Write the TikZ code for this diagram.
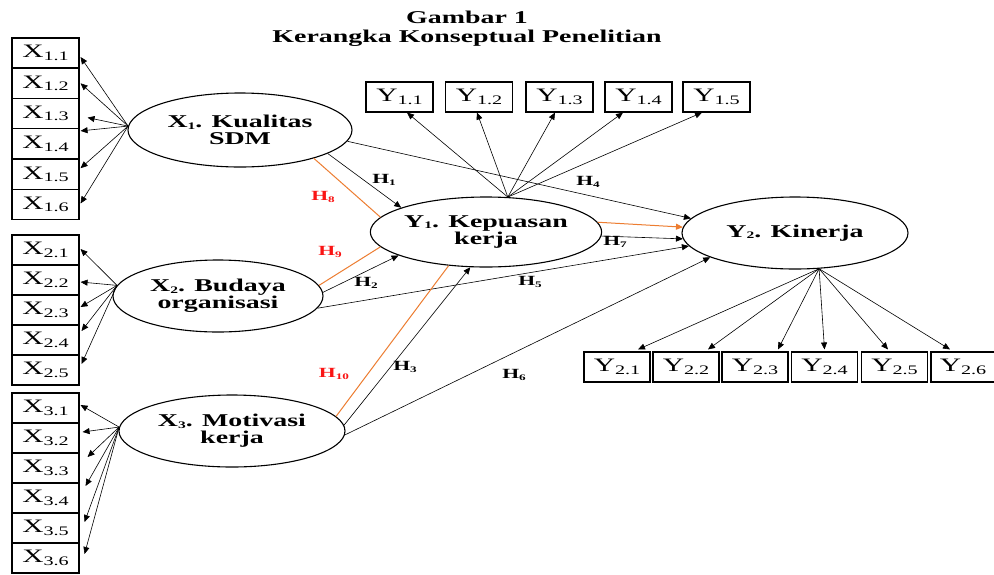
\documentclass[tikz,border=0pt]{standalone}
\usepackage{fontspec}
\setmainfont{Liberation Serif}[FakeStretch=1.55]
\usetikzlibrary{arrows.meta,shapes.geometric}
\definecolor{hor}{RGB}{237,125,49}
\definecolor{hred}{RGB}{250,20,20}
\newcommand{\lsub}[1]{\raisebox{-1.5pt}{\fontsize{10}{10}\selectfont #1}}
\newcommand{\bsub}[1]{\raisebox{-2.5pt}{\fontsize{13}{13}\selectfont #1}}
\newcommand{\hsub}[1]{\raisebox{-2pt}{\fontsize{8.5}{8.5}\selectfont #1}}
\begin{document}
\begin{tikzpicture}[x=1pt,y=-1pt,
 lat/.style={ellipse,draw,line width=1.1pt,inner sep=0pt,align=center,font=\fontsize{18}{17}\selectfont\bfseries},
 ind/.style={draw,line width=1.1pt,minimum width=67pt,minimum height=30pt,inner sep=0pt,font=\fontsize{19}{19}\selectfont},
 ar/.style={line width=0.6pt,-{Triangle[length=7pt,width=6pt]}},
 oline/.style={hor,line width=1pt},
 hl/.style={font=\fontsize{14}{14}\selectfont\bfseries,inner sep=0pt},
 hr/.style={hl,text=hred},
 ttl/.style={font=\fontsize{18}{18}\selectfont\bfseries,inner sep=0pt,anchor=base}]
\useasboundingbox[fill=white] (0,0) rectangle (994,574);

% title
\node[ttl] (t1) at (467,23) {Gambar 1};
\node[ttl] (t2) at (467,42) {Kerangka Konseptual Penelitian};

% latent variables
\node[lat,minimum width=224pt,minimum height=74pt] (x1) at (240,130) {X\lsub{1}. Kualitas\\SDM};
\node[lat,minimum width=210pt,minimum height=72pt] (x2) at (218,296) {X\lsub{2}. Budaya\\organisasi};
\node[lat,minimum width=226pt,minimum height=72pt] (x3) at (232,431) {X\lsub{3}. Motivasi\\kerja};
\node[lat,minimum width=224pt,minimum height=70pt] (y1) at (486,232) {Y\lsub{1}. Kepuasan\\kerja};
\node[lat,minimum width=226pt,minimum height=72pt] (y2) at (795,233) {Y\lsub{2}. Kinerja};

% indicator boxes
\foreach \i/\yy in {1/53,2/83.3,3/113.6,4/143.9,5/174.2,6/204.5}
  \node[ind] (x1\i) at (45.5,\yy) {X\bsub{1.\i}};
\foreach \i/\yy in {1/250,2/280,3/310,4/340,5/370}
  \node[ind] (x2\i) at (45.5,\yy) {X\bsub{2.\i}};
\foreach \i/\yy in {1/408,2/438,3/468,4/498,5/528,6/558}
  \node[ind] (x3\i) at (45.5,\yy) {X\bsub{3.\i}};
\foreach \i/\xx in {1/399.5,2/479,3/559.5,4/638.5,5/716.5}
  \node[ind] (y1\i) at (\xx,97) {Y\bsub{1.\i}};
\foreach \i/\xx in {1/617,2/686,3/755,4/824.5,5/894.5}
  \node[ind,minimum width=66pt] (y2\i) at (\xx,367) {Y\bsub{2.\i}};
\node[ind,minimum width=64pt] (y26) at (963,367) {Y\bsub{2.6}};

% indicator arrows
\foreach \i/\dx/\dy in {1/1/-4,2/1/0,3/8/-4,4/1/13,5/1/6,6/1/1}
  \draw[ar] (x1.178) -- ([xshift=\dx pt,yshift=\dy pt]x1\i.east);
\foreach \i/\dx/\dy in {1/1/1,2/1/-2,3/1/3,4/2/9,5/2/6}
  \draw[ar] (x2.174) -- ([xshift=\dx pt,yshift=\dy pt]x2\i.east);
\foreach \i/\dx/\dy in {1/1/3,2/3/6,3/8/11,4/6/12,5/5/6,6/5/4}
  \draw[ar] (x3.178) -- ([xshift=\dx pt,yshift=\dy pt]x3\i.east);
\foreach \i/\dx in {1/7.5,2/-2,3/-4.5,4/-15.5,5/-14.5}
  \draw[ar] (y1.58) -- ([xshift=\dx pt]y1\i.south);
\foreach \i/\dx in {1/21,2/22,3/23,4/0,5/-6.5,6/-13}
  \draw[ar] (y2.-56) -- ([xshift=\dx pt,yshift=2pt]y2\i.north);

% structural paths
\draw[oline] (x1.-21) -- (y1.172);
\draw[ar] (x1.-15) -- (y1.164);
\draw[ar] (x1.-6) -- (y2.172);
\draw[oline,-{Triangle[length=7pt,width=6pt]}] (y1.5) -- (y2.177);
\draw[ar] (y1.-2) -- (y2.-177);
\draw[ar] (x2.-7) -- (y2.187);
\draw[ar] (x2.2) -- (y1.195);
\draw[oline] (x2.6) -- (y1.188);
\draw[oline] (x3.8) -- (y1.222);
\draw[ar] (x3.3) -- (y1.246);
\draw[ar] (x3.-2) -- (y2.196);

% labels
\node[hl] (h1) at (384,180) {H\hsub{1}};
\node[hl] (h4) at (588,182) {H\hsub{4}};
\node[hr] (h8) at (323,197) {H\hsub{8}};
\node[hl] (h7) at (615,242) {H\hsub{7}};
\node[hl] (h2) at (366,283) {H\hsub{2}};
\node[hl] (h5) at (530,282) {H\hsub{5}};
\node[hr] (h9) at (330,252) {H\hsub{9}};
\node[hr] (h10) at (334,374) {H\hsub{10}};
\node[hl] (h3) at (405,367) {H\hsub{3}};
\node[hl] (h6) at (514,375) {H\hsub{6}};
\end{tikzpicture}
\end{document}
